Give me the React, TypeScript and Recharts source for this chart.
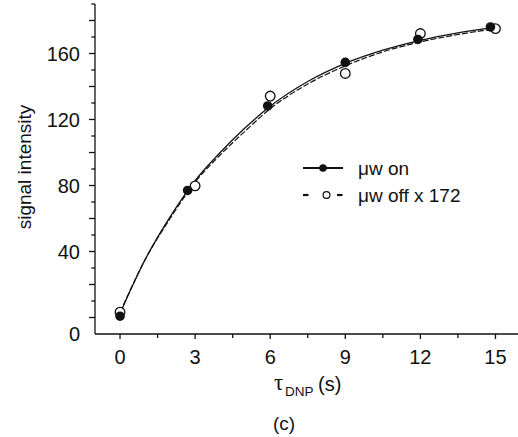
import React from 'react'
import { ComposedChart, Line, Scatter, XAxis, YAxis } from 'recharts'

// measured points
const onX = [0, 2.7, 5.9, 9, 11.9, 14.8]
const onY = [0.8, 77, 128.2, 154.6, 168.5, 176.1]
const offX = [0, 3, 6, 9, 12, 15]
const offY = [3.2, 79.8, 134.2, 147.9, 172.1, 175.1]

// fitted curves
const fitX = [0, 1, 2, 3, 4, 5, 6, 7.5, 9, 10.5, 12, 13.5, 15]
const fitOn = [2.5, 35, 61, 83, 100, 115, 128, 143, 154, 162, 168, 172.5, 176]
const fitOff = [3, 35, 60, 82, 98.5, 113, 126.5, 141.5, 152.5, 161, 167, 171.5, 175]

const xTicks = [0, 1.5, 3, 4.5, 6, 7.5, 9, 10.5, 12, 13.5, 15]
const yTicks = [0, 10, 20, 30, 40, 50, 60, 70, 80, 90, 100, 110, 120, 130, 140, 150, 160, 170, 180, 190]

const onPts = onX.map((x, i) => ({ x, y: onY[i] }))
const offPts = offX.map((x, i) => ({ x, y: offY[i] }))
const onCurve = fitX.map((x, i) => ({ x, y: fitOn[i] }))
const offCurve = fitX.map((x, i) => ({ x, y: fitOff[i] }))

const font = '"Liberation Sans", Arial, sans-serif'
const ink = '#111'

const YTick = (props: any) => {
  const { x, y, payload } = props
  const v = payload.value
  const len = v % 20 === 0 ? 6 : 3.7
  const labelled = v % 40 === 0 && v <= 160
  return (
    <g>
      <line x1={x - len} x2={x} y1={y} y2={y} stroke={ink} strokeWidth={1.3} />
      {labelled && (
        <text x={x - 15} y={v === 0 ? y + 16 : y} dy="0.36em" textAnchor="end" fontSize={20} fontFamily={font} fill={ink}>
          {v}
        </text>
      )}
    </g>
  )
}

const XTick = (props: any) => {
  const { x, y, payload } = props
  const v = payload.value
  const major = v % 3 === 0
  return (
    <g>
      <line x1={x} x2={x} y1={y} y2={y + (major ? 5 : 4)} stroke={ink} strokeWidth={1.3} />
      {major && (
        <text x={x} y={y + 23} dy="0.36em" textAnchor="middle" fontSize={20} fontFamily={font} fill={ink}>
          {v}
        </text>
      )}
    </g>
  )
}

const XLabel = () => (
  <g fontFamily={font} fill={ink}>
    <text x={274} y={390} fontSize={23} fontFamily='"Liberation Serif", serif'>τ</text>
    <text x={285} y={396} fontSize={13.5}>DNP</text>
    <text x={318} y={391} fontSize={20}>(s)</text>
    <text x={284} y={430} textAnchor="middle" fontSize={19}>(c)</text>
  </g>
)

const YLabel = () => (
  <text
    x={24}
    y={167}
    transform="rotate(-90, 24, 167)"
    textAnchor="middle"
    dy="0.36em"
    fontSize={19}
    fontFamily={font}
    fill={ink}
  >
    signal intensity
  </text>
)

const LegendBox = () => (
  <svg width={220} height={60} style={{ position: 'absolute', left: 298, top: 150 }}>
    <g transform="translate(-298,-150)" fontFamily={font} fill={ink}>
      <line x1={303} x2={343} y1={168} y2={168} stroke={ink} strokeWidth={2} />
      <circle cx={323} cy={168} r={3.8} fill={ink} />
      <text x={358} y={168} dy="0.36em" fontSize={19}>μw on</text>
      <line x1={303} x2={308.5} y1={195} y2={195} stroke={ink} strokeWidth={2.2} />
      <circle cx={326.5} cy={195} r={3.4} fill="#fff" stroke={ink} strokeWidth={1.2} />
      <line x1={337} x2={342.5} y1={195} y2={195} stroke={ink} strokeWidth={2.2} />
      <text x={358} y={195} dy="0.36em" fontSize={19}>μw off x 172</text>
    </g>
  </svg>
)

const filledDot = (p: any) => <circle cx={p.cx} cy={p.cy} r={4.8} fill={ink} />
const openDot = (p: any) => <circle cx={p.cx} cy={p.cy} r={4.8} fill="#fff" stroke={ink} strokeWidth={1.3} />

export default function App() {
  return (
    <div style={{ position: 'absolute', left: 0, top: 0, width: 518, height: 437, overflow: 'hidden', background: '#fff' }}>
      <ComposedChart width={518} height={437} margin={{ top: 4, right: 0, bottom: 0, left: 0 }}>
        <XAxis
          type="number"
          dataKey="x"
          domain={[-1, 15.9]}
          ticks={xTicks}
          interval={0}
          height={103}
          tickSize={0}
          tickMargin={0}
          tickLine={false}
          axisLine={{ stroke: ink, strokeWidth: 1.3 }}
          tick={<XTick />}
          label={{ content: () => <XLabel /> }}
        />
        <YAxis
          type="number"
          dataKey="y"
          domain={[-10, 190]}
          ticks={yTicks}
          interval={0}
          width={95}
          tickSize={0}
          tickMargin={0}
          tickLine={false}
          axisLine={{ stroke: ink, strokeWidth: 1.3 }}
          tick={<YTick />}
          label={{ content: () => <YLabel /> }}
        />
        <Line data={offCurve} dataKey="y" type="monotone" stroke={ink} strokeWidth={1.2} strokeDasharray="6 2" dot={false} isAnimationActive={false} />
        <Line data={onCurve} dataKey="y" type="monotone" stroke={ink} strokeWidth={1.3} dot={false} isAnimationActive={false} />
        <Scatter data={offPts} dataKey="y" shape={openDot} isAnimationActive={false} />
        <Scatter data={onPts} dataKey="y" shape={filledDot} isAnimationActive={false} />
      </ComposedChart>
      <LegendBox />
    </div>
  )
}
